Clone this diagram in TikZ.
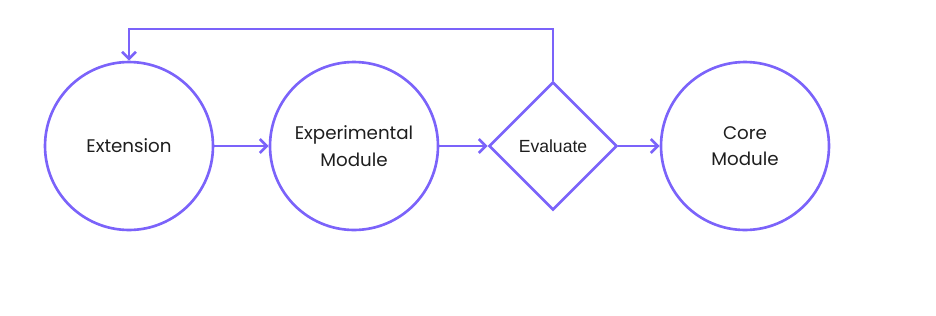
\documentclass[tikz,border=0pt]{standalone}
\usepackage{fontspec}
\setmainfont{Poppins}
\newfontfamily\evalfont{Liberation Sans}
\usetikzlibrary{shapes.geometric,arrows.meta}

\definecolor{flowpurple}{HTML}{7B63FA}
\definecolor{flowtext}{HTML}{1E1E1E}

\tikzset{
    module/.style={circle, draw=flowpurple, line width=1.5pt, minimum size=3.36cm,
        inner sep=0pt, align=center, text=flowtext, font=\fontsize{10.4}{15}\selectfont},
    decision/.style={diamond, draw=flowpurple, line width=1.5pt, minimum width=2.56cm,
        minimum height=2.56cm, inner sep=0pt, text=flowtext, font=\evalfont\fontsize{10}{12}\selectfont},
    flow/.style={draw=flowpurple, line width=1.5pt, -{Straight Barb[length=4pt,width=8pt,line width=1.5pt]}}
}

\begin{document}
\begin{tikzpicture}[x=0.02cm, y=-0.02cm]
    % Fix the page size
    \useasboundingbox (0,0) rectangle (936,315);

    % Place the nodes
    \node[module] (ext) at (129,146) {Extension};
    \node[module] (exp) at (354,146) {Experimental\\Module};
    \node[decision] (eval) at (553,146) {Evaluate};
    \node[module] (core) at (745,146) {Core\\Module};

    % Draw the arrows
    \draw[flow] (ext) -- (exp);
    \draw[flow] (exp) -- (eval);
    \draw[flow] (eval) -- (core);

    % Draw the loop back
    \coordinate (loop) at (553,29);
    \draw[flow] (eval.north) -- (loop) -| (ext.north);

\end{tikzpicture}
\end{document}
